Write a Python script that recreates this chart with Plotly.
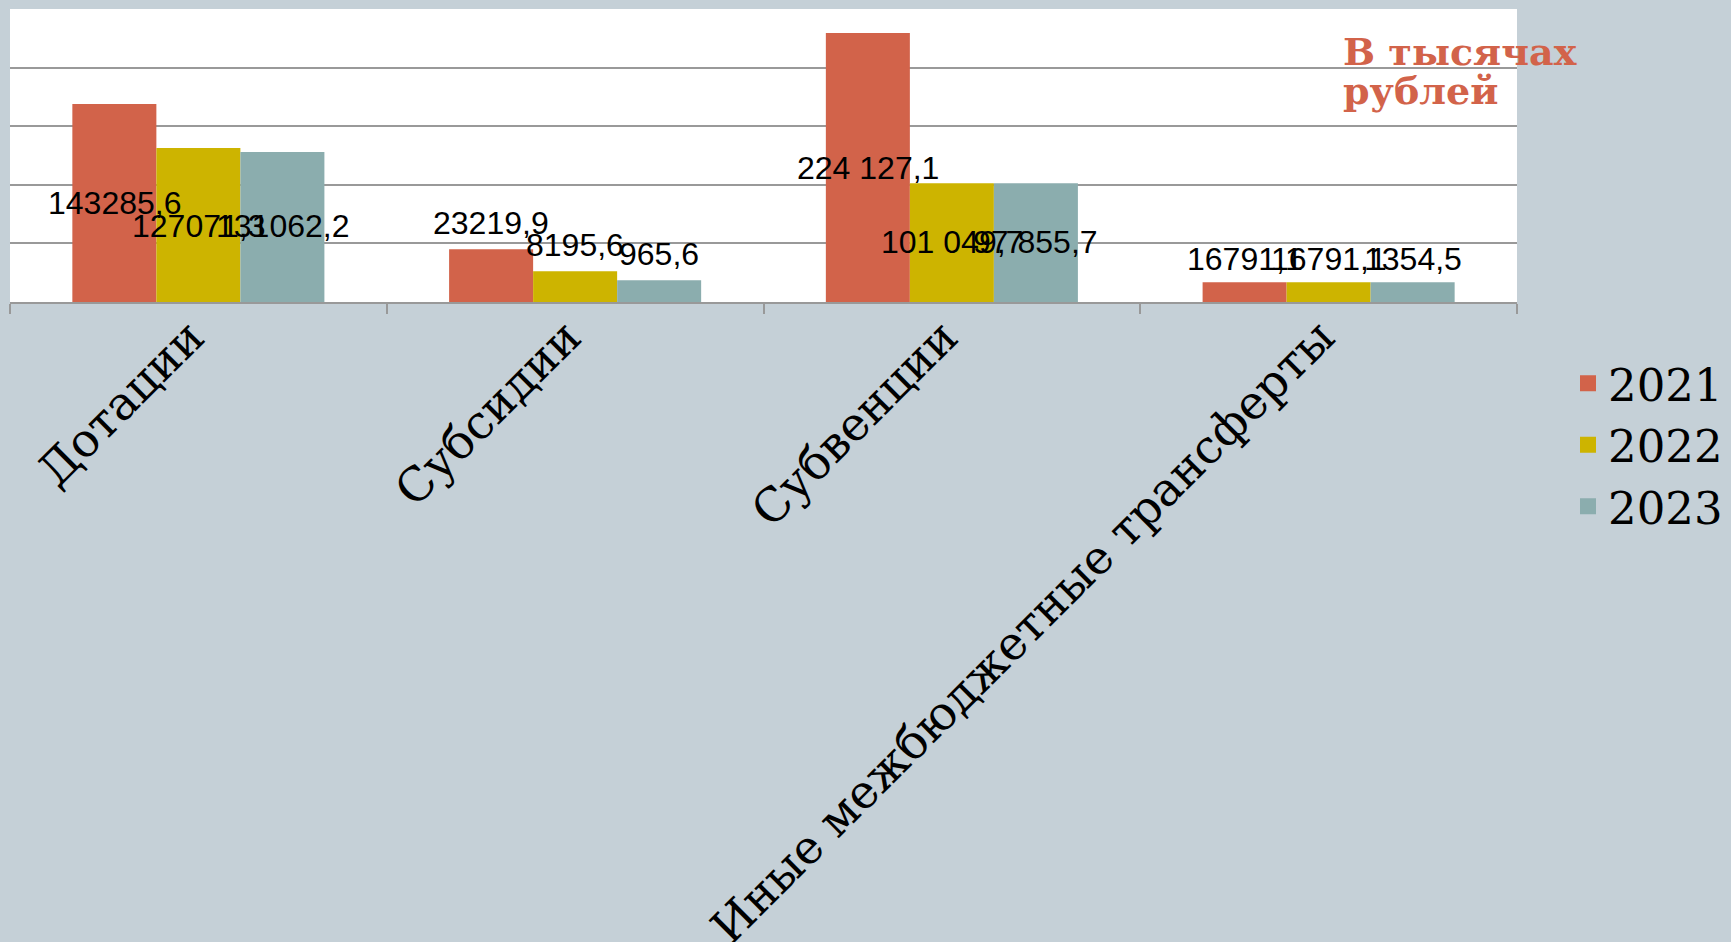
import plotly.graph_objects as go

categories = ["Дотации", "Субсидии", "Субвенции", "Иные межбюджетные трансферты"]
years = ["2021", "2022", "2023"]

# bar heights as drawn in the picture
values_2021 = [169000, 45000, 229600, 16800]
values_2022 = [131500, 26300, 101400, 16800]
values_2023 = [128000, 18500, 101400, 16800]

# data labels as printed in the picture
labels_2021 = ["143285,6", "23219,9", "224 127,1", "16791,1"]
labels_2022 = ["127071,3", "8195,6", "101 049,7", "16791,1"]
labels_2023 = ["131062,2", "965,6", "97 855,7", "1354,5"]

# vertical level (in axis units) where each label sits
label_y_2021 = [84800, 67300, 114700, 36500]
label_y_2022 = [64700, 48500, 51000, 36500]
label_y_2023 = [64700, 40800, 51000, 36500]

colors = ["#D2634A", "#CDB400", "#8BADAE"]
series_values = [values_2021, values_2022, values_2023]
series_labels = [labels_2021, labels_2022, labels_2023]
series_label_y = [label_y_2021, label_y_2022, label_y_2023]

W, H = 1731, 942
ML, MR, MT, MB = 10, 214, 9, 640
plot_w = W - ML - MR
plot_h = H - MT - MB
bargap = 0.331
bar_px = plot_w / len(categories) * (1 - bargap) / len(years)

fig = go.Figure()
for i, yr in enumerate(years):
    fig.add_trace(go.Bar(
        x=categories, y=series_values[i], name=yr,
        legendgroup=yr, showlegend=False,
        marker=dict(color=colors[i], line=dict(width=0)),
    ))
# legend entries (larger square keys)
for i, yr in enumerate(years):
    fig.add_trace(go.Scatter(
        x=[None], y=[None], name=yr, legendgroup=yr, mode="markers",
        marker=dict(symbol="square", size=16, color=colors[i]),
        hoverinfo="skip",
    ))

annotations = []
for i in range(len(years)):
    for j, cat in enumerate(categories):
        annotations.append(dict(
            x=cat, y=series_label_y[i][j], xref="x", yref="y",
            text=series_labels[i][j], showarrow=False,
            xshift=(i - 1) * bar_px,
            font=dict(family="Liberation Sans, Arial, sans-serif", size=32, color="black"),
            xanchor="center", yanchor="middle",
        ))

title_font = dict(family="DejaVu Serif", size=38, color="#D2634A")
annotations.append(dict(
    x=(1341 - ML) / plot_w, y=1 - (52 - MT) / plot_h, xref="paper", yref="paper",
    text="<b>В тысячах</b>", showarrow=False, xanchor="left", yanchor="middle",
    font=title_font,
))
annotations.append(dict(
    x=(1341 - ML) / plot_w, y=1 - (91 - MT) / plot_h, xref="paper", yref="paper",
    text="<b>рублей</b>", showarrow=False, xanchor="left", yanchor="middle",
    font=title_font,
))

fig.update_layout(
    width=W, height=H,
    margin=dict(l=ML, r=MR, t=MT, b=MB, pad=0, autoexpand=False),
    paper_bgcolor="#C5D0D7",
    plot_bgcolor="white",
    barmode="group",
    bargap=bargap,
    bargroupgap=0,
    showlegend=True,
    legend=dict(
        x=(1568 - ML) / plot_w, y=1 - (445 - MT) / plot_h,
        xanchor="left", yanchor="middle",
        font=dict(family="DejaVu Serif", size=45, color="black"),
        bgcolor="rgba(0,0,0,0)",
        itemwidth=30,
        itemsizing="trace",
        tracegroupgap=0,
    ),
    annotations=annotations,
)

fig.update_xaxes(
    type="category",
    automargin=False,
    tickangle=-45,
    tickfont=dict(family="DejaVu Serif", size=46.5, color="black"),
    ticklabelstandoff=-13,
    ticklabelshift=-8,
    tickson="boundaries",
    ticks="outside", ticklen=10, tickcolor="#999999", tickwidth=2,
    showline=True, linecolor="#999999", linewidth=2,
    showgrid=False,
)
fig.update_yaxes(
    automargin=False,
    range=[0, 250000], dtick=50000,
    showticklabels=False,
    showgrid=True, gridcolor="#999999", gridwidth=2,
    zeroline=False,
    showline=False,
)

fig.write_html(
    "out.html",
    config={"displayModeBar": False},
    post_script="document.body.style.margin='0';document.body.style.overflow='hidden';",
)
